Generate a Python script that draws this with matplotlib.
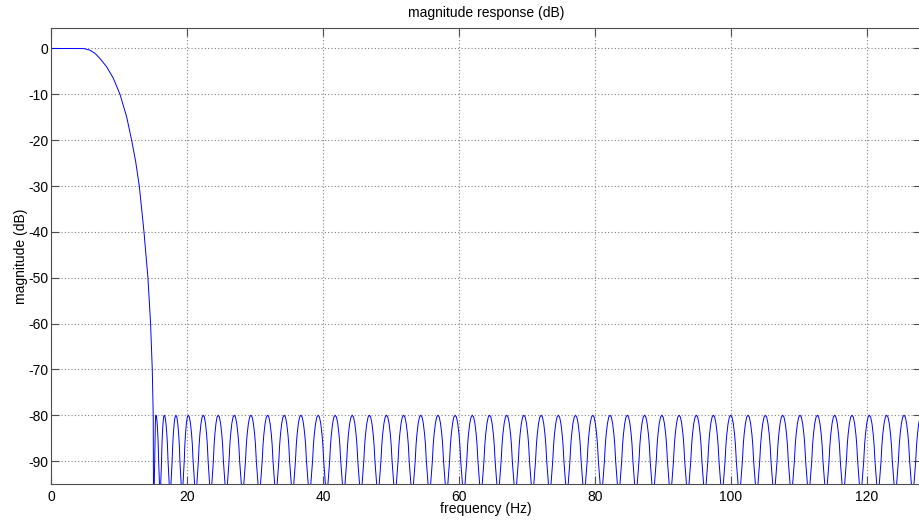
import numpy as np
import matplotlib
matplotlib.use("Agg")
import matplotlib.pyplot as plt

plt.rcParams["font.family"] = ["Liberation Sans", "DejaVu Sans"]
plt.rcParams["axes.unicode_minus"] = False

# passband / transition band of the lowpass (Hz, dB)
pass_hz = [0.0, 2.0, 4.0, 4.75, 5.0, 5.74, 6.5, 7.21, 8.19, 9.17, 10.15,
           11.13, 11.86, 12.45, 12.99, 13.68, 14.26, 14.65, 14.9, 15.04, 15.15]
pass_db = [0.0, 0.0, 0.0, -0.02, -0.08, -0.37, -1.1, -2.2, -4.0, -6.5, -10.0,
           -14.9, -20.0, -24.6, -30.0, -40.0, -50.0, -60.0, -70.0, -80.0, -130.0]

# stopband sidelobe peak frequencies (Hz)
lobe_peak_hz = [15.44, 16.66, 18.38, 20.19, 22.40, 24.60, 26.96, 29.41, 31.87, 34.31,
                36.76, 39.31, 41.81, 44.32, 46.84, 49.36, 51.88, 54.40, 56.93, 59.46,
                61.99, 64.52, 67.05, 69.58, 72.11, 74.64, 77.17, 79.71, 82.25, 84.79,
                87.33, 89.87, 92.41, 94.95, 97.45, 100.0, 102.55, 105.1, 107.65, 110.2,
                112.75, 115.3, 117.85, 120.4, 122.95, 125.5, 128.05]
lobe_peak_db = -80.0
first_null_hz = 15.15

# shape of one sidelobe: fraction of the way to the null vs. dB below the peak
lobe_u = [0.0, 0.15, 0.3, 0.45, 0.55, 0.65, 0.75, 0.85, 0.93, 1.0]
lobe_drop = [0.0, -0.4, -1.8, -4.2, -6.5, -10.0, -12.5, -15.0, -20.0, -45.0]


def stopband_curve():
    peaks = np.array(lobe_peak_hz)
    mids = (peaks[:-1] + peaks[1:]) / 2
    left = np.concatenate([[first_null_hz], mids])
    right = np.concatenate([mids, [peaks[-1] + (peaks[-1] - peaks[-2]) / 2]])
    u = np.array(lobe_u)
    d = np.array(lobe_drop)
    f, m = [], []
    for p, lo, hi in zip(peaks, left, right):
        f.extend(p - u[::-1] * (p - lo)); m.extend(lobe_peak_db + d[::-1])
        f.extend(p + u[1:] * (hi - p)); m.extend(lobe_peak_db + d[1:])
    return f, m


sf, sm = stopband_curve()
freq = list(pass_hz) + sf
mag = list(pass_db) + sm

fig = plt.figure(figsize=(9.19, 5.21), dpi=100)
ax = fig.add_axes([51 / 919, 37 / 521, 870 / 919, 455.7 / 521])
ax.plot(freq, mag, color="#0000ff", lw=0.7)

ax.set_xlim(0, 128)
ax.set_ylim(-95, 4.4)
ax.set_xticks(np.arange(0, 121, 20))
ax.set_yticks(np.arange(-90, 1, 10))
ax.grid(True, color="0.5", linestyle=(0, (1, 2)), lw=0.8)
ax.tick_params(direction="in", length=6, width=0.8, top=True, right=True,
               labelsize=10, pad=4, color="0.3")
ax.tick_params(axis="y", pad=2)
for s in ax.spines.values():
    s.set_color("0.3"); s.set_linewidth(0.8)

ax.set_title("magnitude response (dB)", fontsize=10, pad=8)
ax.set_xlabel("frequency (Hz)", fontsize=10, labelpad=-1)
ax.set_ylabel("magnitude (dB)", fontsize=10, labelpad=0)

fig.savefig("out.png", dpi=100)
